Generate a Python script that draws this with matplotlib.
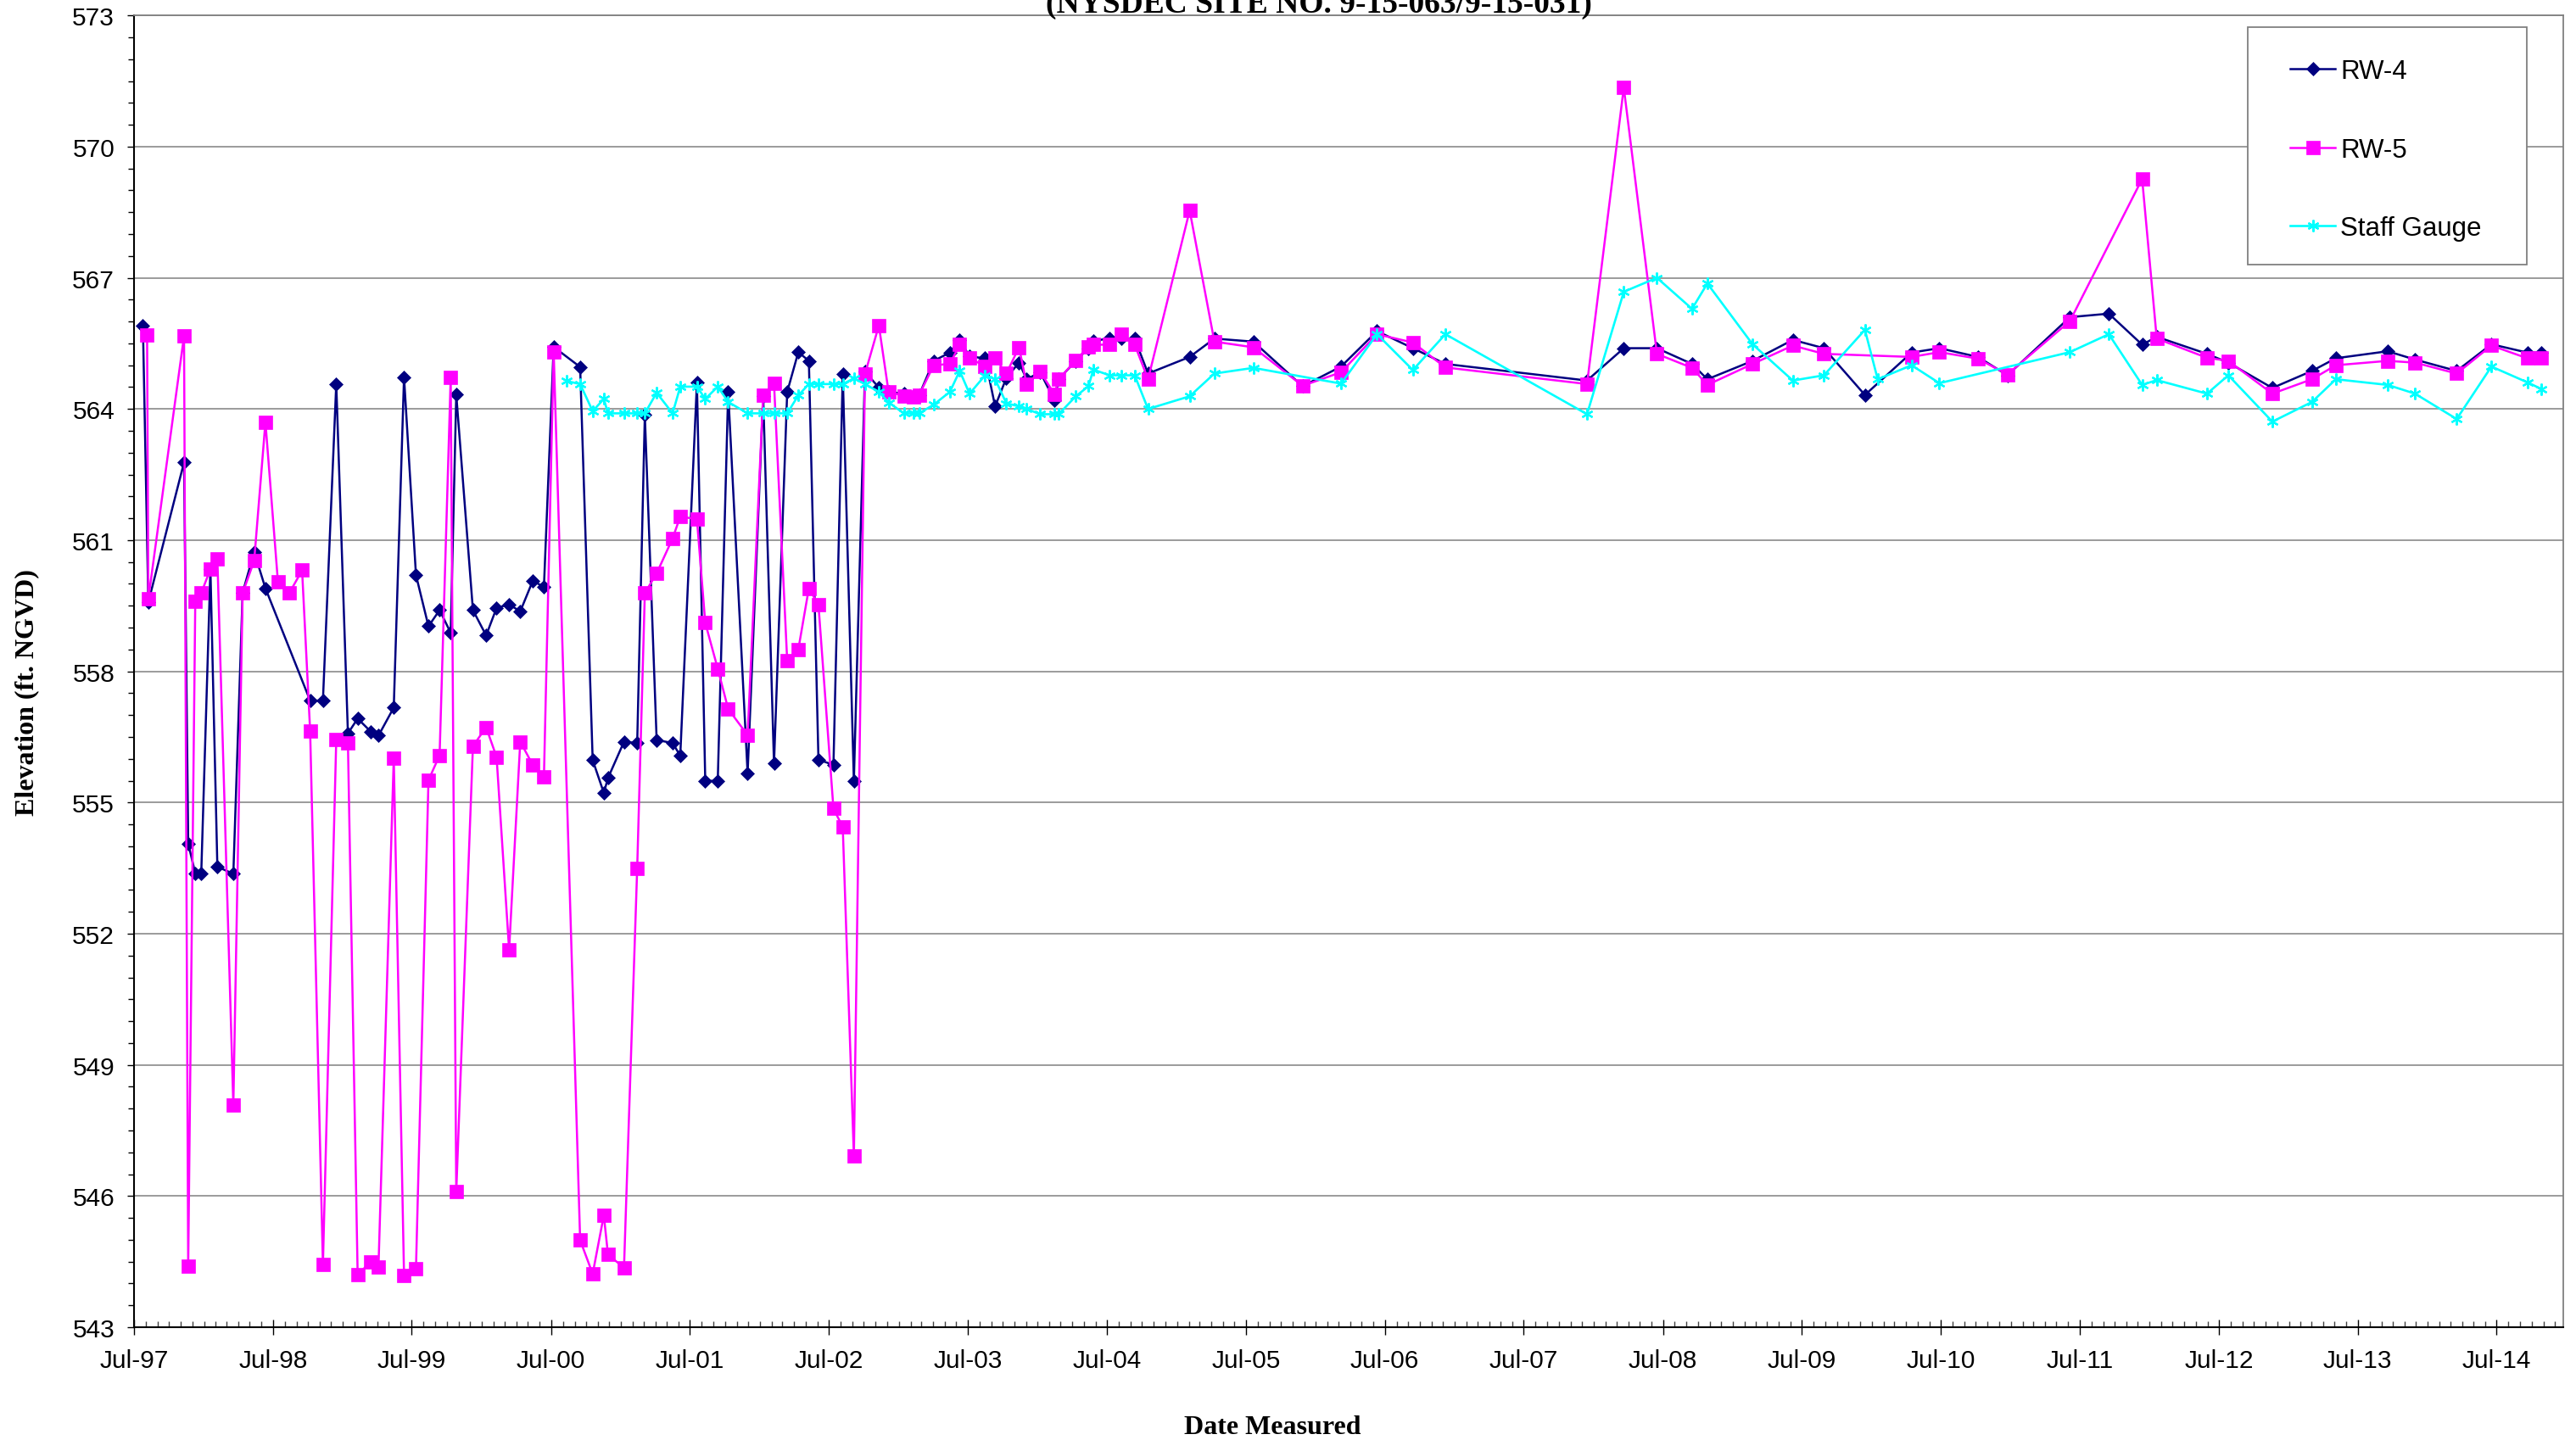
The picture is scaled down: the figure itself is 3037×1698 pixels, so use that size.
import numpy as np
import pandas as pd
import matplotlib
matplotlib.use("Agg")
import matplotlib.pyplot as plt
import matplotlib.dates as mdates
from matplotlib.lines import Line2D
from matplotlib.patches import Rectangle
from matplotlib.ticker import MultipleLocator

plt.rcParams['font.family'] = ['Liberation Sans', 'DejaVu Sans']

# ---------------- data (dates as decimal years) ----------------
rw4_dates = [1997.560, 1997.599, 1997.856, 1997.886, 1997.937, 1997.980, 1998.046, 1998.096, 1998.211, 1998.278,
             1998.361, 1998.442, 1998.764, 1998.856, 1998.952, 1999.036, 1999.106, 1999.201, 1999.256, 1999.366,
             1999.440, 1999.526, 1999.616, 1999.696, 1999.776, 1999.816, 1999.936, 2000.031, 2000.106, 2000.196,
             2000.276, 2000.366, 2000.446, 2000.516, 2000.706, 2000.796, 2000.876, 2000.906, 2001.021, 2001.116,
             2001.171, 2001.256, 2001.371, 2001.426, 2001.546, 2001.606, 2001.696, 2001.771, 2001.911, 2002.023,
             2002.101, 2002.196, 2002.276, 2002.352, 2002.421, 2002.529, 2002.596, 2002.676, 2002.756, 2002.856,
             2002.926, 2003.036, 2003.106, 2003.146, 2003.251, 2003.367, 2003.438, 2003.509, 2003.621, 2003.693,
             2003.774, 2003.865, 2003.920, 2004.018, 2004.120, 2004.150, 2004.273, 2004.364, 2004.399, 2004.516,
             2004.602, 2004.696, 2004.792, 2005.091, 2005.269, 2005.550, 2005.904, 2006.181, 2006.440, 2006.698,
             2006.932, 2007.952, 2008.216, 2008.454, 2008.706, 2008.816, 2009.141, 2009.431, 2009.655, 2009.950,
             2010.286, 2010.486, 2010.764, 2010.976, 2011.426, 2011.706, 2011.946, 2012.051, 2012.412, 2012.565,
             2012.881, 2013.166, 2013.338, 2013.711, 2013.908, 2014.208, 2014.458, 2014.716, 2014.816]
rw4_values = [565.91, 559.58, 562.78, 554.06, 553.38, 553.38, 560.34, 553.53, 553.37, 559.80,
              560.73, 559.90, 557.33, 557.33, 564.57, 556.58, 556.92, 556.62, 556.53, 557.17,
              564.73, 560.20, 559.03, 559.40, 558.88, 564.33, 559.40, 558.82, 559.45, 559.53,
              559.37, 560.07, 559.93, 565.42, 564.96, 555.97, 555.22, 555.56, 556.39, 556.36,
              563.86, 556.43, 556.36, 556.07, 564.60, 555.50, 555.49, 564.39, 555.67, 564.30,
              555.89, 564.39, 565.30, 565.10, 555.98, 555.86, 564.80, 555.49, 564.85, 564.49,
              564.39, 564.35, 564.30, 564.32, 565.10, 565.29, 565.58, 565.20, 565.16, 564.06,
              564.71, 565.06, 564.68, 564.84, 564.19, 564.68, 565.10, 565.39, 565.56, 565.61,
              565.61, 565.61, 564.81, 565.19, 565.61, 565.54, 564.52, 564.97, 565.78, 565.39,
              565.03, 564.65, 565.39, 565.39, 565.03, 564.68, 565.10, 565.58, 565.39, 564.32,
              565.29, 565.39, 565.19, 564.77, 566.10, 566.18, 565.47, 565.65, 565.26, 565.06,
              564.48, 564.87, 565.16, 565.32, 565.13, 564.87, 565.48, 565.29, 565.29]

rw5_dates = [1997.590, 1997.599, 1997.856, 1997.886, 1997.937, 1997.980, 1998.046, 1998.096, 1998.211, 1998.278,
             1998.361, 1998.442, 1998.532, 1998.614, 1998.706, 1998.764, 1998.856, 1998.952, 1999.036, 1999.106,
             1999.201, 1999.256, 1999.366, 1999.440, 1999.526, 1999.616, 1999.696, 1999.776, 1999.816, 1999.936,
             2000.031, 2000.106, 2000.196, 2000.276, 2000.366, 2000.446, 2000.516, 2000.706, 2000.796, 2000.876,
             2000.906, 2001.021, 2001.116, 2001.171, 2001.256, 2001.371, 2001.426, 2001.546, 2001.606, 2001.696,
             2001.771, 2001.911, 2002.023, 2002.101, 2002.196, 2002.276, 2002.352, 2002.421, 2002.529, 2002.596,
             2002.676, 2002.756, 2002.856, 2002.926, 2003.036, 2003.106, 2003.146, 2003.251, 2003.367, 2003.438,
             2003.509, 2003.621, 2003.693, 2003.774, 2003.865, 2003.920, 2004.018, 2004.120, 2004.150, 2004.273,
             2004.364, 2004.399, 2004.516, 2004.602, 2004.696, 2004.792, 2005.091, 2005.269, 2005.550, 2005.904,
             2006.181, 2006.440, 2006.698, 2006.932, 2007.952, 2008.216, 2008.454, 2008.706, 2008.816, 2009.141,
             2009.431, 2009.655, 2010.286, 2010.486, 2010.764, 2010.976, 2011.426, 2011.946, 2012.051, 2012.412,
             2012.565, 2012.881, 2013.166, 2013.338, 2013.711, 2013.908, 2014.208, 2014.458, 2014.716, 2014.816]
rw5_values = [565.69, 559.66, 565.67, 544.39, 559.61, 559.79, 560.34, 560.58, 548.08, 559.79,
              560.53, 563.70, 560.05, 559.79, 560.31, 556.63, 544.43, 556.44, 556.37, 544.21,
              544.49, 544.38, 556.01, 544.19, 544.34, 555.51, 556.08, 564.73, 546.10, 556.29,
              556.72, 556.04, 551.63, 556.39, 555.86, 555.58, 565.31, 544.99, 544.22, 545.56,
              544.66, 544.36, 553.50, 559.79, 560.24, 561.04, 561.54, 561.48, 559.11, 558.06,
              557.14, 556.54, 564.31, 564.59, 558.24, 558.50, 559.90, 559.52, 554.86, 554.44,
              546.91, 564.80, 565.91, 564.39, 564.30, 564.28, 564.32, 565.00, 565.03, 565.47,
              565.17, 564.97, 565.16, 564.81, 565.41, 564.56, 564.85, 564.34, 564.68, 565.11,
              565.43, 565.47, 565.47, 565.71, 565.47, 564.68, 568.54, 565.54, 565.41, 564.53,
              564.84, 565.71, 565.52, 564.95, 564.57, 571.35, 565.26, 564.94, 564.55, 565.03,
              565.45, 565.26, 565.19, 565.30, 565.15, 564.79, 566.01, 569.26, 565.61, 565.17,
              565.10, 564.35, 564.68, 565.00, 565.10, 565.06, 564.81, 565.45, 565.16, 565.16]

sg_dates = [2000.606, 2000.706, 2000.796, 2000.876, 2000.906, 2001.021, 2001.116, 2001.171, 2001.256, 2001.371,
            2001.426, 2001.546, 2001.606, 2001.696, 2001.771, 2001.911, 2002.023, 2002.101, 2002.196, 2002.276,
            2002.352, 2002.421, 2002.529, 2002.596, 2002.676, 2002.756, 2002.856, 2002.926, 2003.036, 2003.106,
            2003.146, 2003.251, 2003.367, 2003.438, 2003.509, 2003.621, 2003.693, 2003.774, 2003.865, 2003.920,
            2004.018, 2004.120, 2004.150, 2004.273, 2004.364, 2004.399, 2004.516, 2004.602, 2004.696, 2004.792,
            2005.091, 2005.269, 2005.550, 2006.181, 2006.440, 2006.698, 2006.932, 2007.952, 2008.216, 2008.454,
            2008.706, 2008.816, 2009.141, 2009.431, 2009.655, 2009.950, 2010.042, 2010.286, 2010.486, 2011.426,
            2011.706, 2011.946, 2012.051, 2012.412, 2012.565, 2012.881, 2013.166, 2013.338, 2013.711, 2013.908,
            2014.208, 2014.458, 2014.716, 2014.816]
sg_values = [564.64, 564.57, 563.95, 564.23, 563.90, 563.90, 563.90, 563.90, 564.37, 563.90,
             564.51, 564.51, 564.23, 564.51, 564.16, 563.90, 563.90, 563.90, 563.90, 564.31,
             564.57, 564.57, 564.57, 564.57, 564.70, 564.57, 564.39, 564.15, 563.90, 563.90,
             563.90, 564.10, 564.39, 564.87, 564.35, 564.77, 564.68, 564.13, 564.06, 564.00,
             563.88, 563.88, 563.88, 564.29, 564.52, 564.90, 564.77, 564.77, 564.77, 564.00,
             564.29, 564.81, 564.94, 564.58, 565.71, 564.89, 565.71, 563.88, 566.68, 567.00,
             566.29, 566.87, 565.48, 564.65, 564.77, 565.81, 564.68, 565.00, 564.59, 565.30,
             565.71, 564.55, 564.66, 564.35, 564.77, 563.71, 564.16, 564.68, 564.55, 564.35,
             563.77, 564.97, 564.61, 564.46]

series_names = ['RW-4', 'RW-5', 'Staff Gauge']
title_text = '(NYSDEC SITE NO. 9-15-063/9-15-031)'
x_label = 'Date Measured'
y_label = 'Elevation (ft. NGVD)'


def to_dates(decimal_years):
    out = []
    for d in decimal_years:
        y = int(d)
        s = pd.Timestamp(y, 1, 1)
        e = pd.Timestamp(y + 1, 1, 1)
        out.append(s + (e - s) * (d - y))
    return pd.DatetimeIndex(out)


W, H = 3037, 1699
fig = plt.figure(figsize=(W / 100, H / 100), dpi=100)
ax_left, ax_right, ax_top, ax_bot = 158, 3022, 19.2, 1566
ax = fig.add_axes([ax_left / W, 1 - ax_bot / H, (ax_right - ax_left) / W, (ax_bot - ax_top) / H])

NAVY, MAG, CYAN = '#000080', '#FF00FF', '#00FFFF'
styles = [
    dict(color=NAVY, lw=1.8, marker='D', ms=7.8, mfc=NAVY, mec=NAVY, mew=0.5),
    dict(color=MAG, lw=1.8, marker='s', ms=11.5, mfc=MAG, mec=MAG, mew=0.5),
    dict(color=CYAN, lw=1.9, marker=(6, 2, 0), ms=10, mfc=CYAN, mec=CYAN, mew=1.6),
]
data = [(rw4_dates, rw4_values), (rw5_dates, rw5_values), (sg_dates, sg_values)]
for i, ((d, v), st, name) in enumerate(zip(data, styles, series_names)):
    ax.plot(to_dates(d), v, label=name, zorder=3 + i, clip_on=False, **st)

ax.set_ylim(543, 573)
ax.yaxis.set_major_locator(MultipleLocator(3))
ax.yaxis.set_minor_locator(MultipleLocator(0.5))
ax.set_xlim(pd.Timestamp('1997-07-01'), pd.Timestamp('2014-12-23'))
ax.xaxis.set_major_locator(mdates.MonthLocator(bymonth=7, bymonthday=1))
ax.xaxis.set_minor_locator(mdates.MonthLocator())
ax.xaxis.set_major_formatter(mdates.DateFormatter('%b-%y'))

ax.grid(axis='y', which='major', color='#808080', lw=1.1)
ax.set_axisbelow(True)

ax.tick_params(axis='x', which='major', direction='inout', length=13.5, width=1.0, pad=11,
               labelsize=21.5, colors='black')
ax.tick_params(axis='x', which='minor', direction='in', length=5, width=1.0, color='#404040')
ax.tick_params(axis='y', which='major', direction='out', length=5.5, width=1.0, pad=11, labelsize=21.5)
ax.tick_params(axis='y', which='minor', direction='out', length=5, width=1.0)

for s in ['left', 'bottom']:
    ax.spines[s].set_color('black')
    ax.spines[s].set_linewidth(1.5)
for s in ['top', 'right']:
    ax.spines[s].set_color('#808080')
    ax.spines[s].set_linewidth(1.3)

# titles / labels (title is partly cut off at the top edge, as in the reference)
serif = ['Liberation Serif', 'DejaVu Serif']
fig.text(1555 / W, 1 - 15 / H, title_text, ha='center', va='baseline', fontsize=27,
         fontweight='bold', family=serif)
fig.text(1500 / W, 1 - 1691 / H, x_label, ha='center', va='baseline', fontsize=23,
         fontweight='bold', family=serif)
fig.text(32 / W, 1 - 817 / H, y_label, ha='center', va='center', rotation=90, fontsize=23,
         fontweight='bold', family=serif)

# legend (Excel style box)
lx0, ly0, lx1, ly1 = 2650, 33, 2979, 313
fig.add_artist(Rectangle((lx0 / W, 1 - ly1 / H), (lx1 - lx0) / W, (ly1 - ly0) / H,
                         transform=fig.transFigure, facecolor='white', edgecolor='#808080',
                         lw=1.3, zorder=10))
baselines = [93, 186, 278]
for name, st, bl in zip(series_names, styles, baselines):
    yc = 1 - (bl - 11.5) / H
    fig.add_artist(Line2D([2700 / W, 2726.5 / W, 2753 / W], [yc, yc, yc], transform=fig.transFigure,
                          markevery=[1], zorder=11, **st))
    fig.text(2759 / W, 1 - bl / H, name, ha='left', va='baseline', fontsize=22.5, zorder=12)

fig.savefig('out.png', dpi=100, facecolor='white')
